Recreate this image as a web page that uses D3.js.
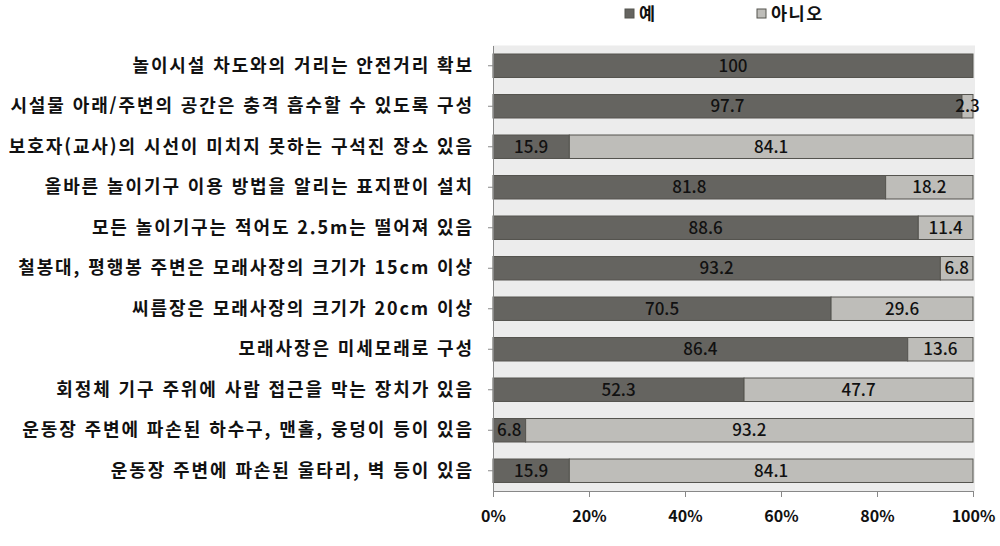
<!DOCTYPE html>
<html lang="ko">
<head>
<meta charset="utf-8">
<script src="https://d3js.org/d3.v7.min.js"></script>
<style>
  body { margin: 0; background: #fff; }
  text { font-family: "Noto Sans CJK KR", "Noto Sans", sans-serif; }
  .cat { font-size: 18px; font-weight: bold; fill: #111; letter-spacing: 1.9px; }
  .leg { font-size: 17.5px; font-weight: bold; fill: #111; letter-spacing: 1.5px; }
  .tick-lbl { font-size: 16px; font-weight: bold; fill: #111; }
  .val { font-size: 17px; font-weight: 500; fill: #111; }
</style>
</head>
<body>
<script>
var categories = [
  "놀이시설 차도와의 거리는 안전거리 확보",
  "시설물 아래/주변의 공간은 충격 흡수할 수 있도록 구성",
  "보호자(교사)의 시선이 미치지 못하는 구석진 장소 있음",
  "올바른 놀이기구 이용 방법을 알리는 표지판이 설치",
  "모든 놀이기구는 적어도 2.5m는 떨어져 있음",
  "철봉대, 평행봉 주변은 모래사장의 크기가 15cm 이상",
  "씨름장은 모래사장의 크기가 20cm 이상",
  "모래사장은 미세모래로 구성",
  "회정체 기구 주위에 사람 접근을 막는 장치가 있음",
  "운동장 주변에 파손된 하수구, 맨홀, 웅덩이 등이 있음",
  "운동장 주변에 파손된 울타리, 벽 등이 있음"
];
var yesValues = [100, 97.7, 15.9, 81.8, 88.6, 93.2, 70.5, 86.4, 52.3, 6.8, 15.9];
var noValues  = [0, 2.3, 84.1, 18.2, 11.4, 6.8, 29.6, 13.6, 47.7, 93.2, 84.1];
var seriesNames = ["예", "아니오"];
var tickValues = [0, 20, 40, 60, 80, 100];

var colors = ["#656460", "#bebdb9"];
var W = 1000, H = 546;
var m = { left: 493, right: 973, top: 45.5, bottom: 491 };

var svg = d3.select("body").append("svg").attr("width", W).attr("height", H);

var x = d3.scaleLinear().domain([0, 100]).range([m.left, m.right]);
var y = d3.scaleBand().domain(categories).range([m.top, m.bottom]).paddingInner(0.42).paddingOuter(0.21);

// plot background
svg.append("rect")
  .attr("x", m.left).attr("y", m.top)
  .attr("width", m.right - m.left + 2).attr("height", m.bottom - m.top)
  .attr("fill", "#ececec");

var rows = categories.map(function (c, i) {
  var s = yesValues[i] + noValues[i];
  var a = yesValues[i] / s * 100;
  return { cat: c, segs: [
    { k: 0, x0: 0, x1: a, v: yesValues[i] },
    { k: 1, x0: a, x1: 100, v: noValues[i] }
  ]};
});

var g = svg.append("g");
rows.forEach(function (r) {
  r.segs.forEach(function (s) {
    if (s.v <= 0) return;
    g.append("rect")
      .attr("x", x(s.x0)).attr("y", y(r.cat))
      .attr("width", x(s.x1) - x(s.x0)).attr("height", y.bandwidth())
      .attr("fill", colors[s.k])
      .attr("stroke", "#55544f").attr("stroke-width", 1);
  });
});
rows.forEach(function (r) {
  r.segs.forEach(function (s) {
    if (s.v <= 0) return;
    g.append("text").attr("class", "val")
      .attr("x", (x(s.x0) + x(s.x1)) / 2)
      .attr("y", y(r.cat) + y.bandwidth() / 2)
      .attr("dy", "0.36em")
      .attr("text-anchor", "middle")
      .text(s.v);
  });
});

// axes
var axisColor = "#888";
var yAxis = svg.append("g").attr("transform", "translate(" + m.left + ",0)")
  .call(d3.axisLeft(y).tickSize(5).tickSizeOuter(0).tickPadding(14));
yAxis.select(".domain").attr("stroke", axisColor);
yAxis.selectAll(".tick line").attr("stroke", axisColor);
yAxis.selectAll(".tick text").attr("class", "cat").attr("dy", "0.34em");

var xAxis = svg.append("g").attr("transform", "translate(0," + m.bottom + ")")
  .call(d3.axisBottom(x).tickValues(tickValues).tickSize(6).tickSizeOuter(0)
    .tickFormat(function (d) { return d + "%"; }).tickPadding(14));
xAxis.select(".domain").attr("stroke", axisColor);
xAxis.selectAll(".tick line").attr("stroke", axisColor);
xAxis.selectAll(".tick text").attr("class", "tick-lbl");

// legend
var legX = [625, 757];
seriesNames.forEach(function (n, i) {
  svg.append("rect").attr("x", legX[i]).attr("y", 9).attr("width", 9).attr("height", 9)
    .attr("fill", colors[i]).attr("stroke", "#55544f");
  svg.append("text").attr("class", "leg")
    .attr("x", legX[i] + 14).attr("y", 14).attr("dy", "0.36em")
    .text(n);
});
</script>
</body>
</html>
